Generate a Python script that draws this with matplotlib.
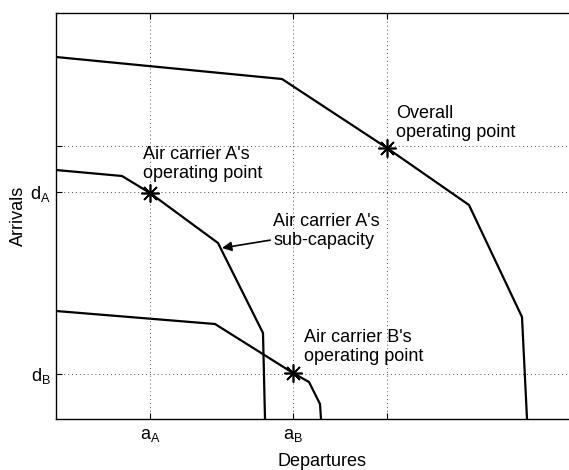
import numpy as np
import matplotlib
matplotlib.use("Agg")
import matplotlib.pyplot as plt

plt.rcParams["font.family"] = ["Liberation Sans", "DejaVu Sans"]
plt.rcParams["mathtext.default"] = "regular"

# capacity curves (departures, arrivals)
overall_x = [0, 226, 331, 413, 466, 471]
overall_y = [362, 340, 271, 214, 102, 0]

carrier_a_x = [0, 66, 94, 162, 207, 209]
carrier_a_y = [249, 243, 226, 176, 86, 0]

carrier_b_x = [0, 159, 237, 253, 264, 265]
carrier_b_y = [108, 95, 46, 37, 15, 0]

# operating points
op_x = [94, 237, 331]
op_y = [226, 46, 271]

xtick_pos = [94, 237, 331]
xtick_labels = ["a$_A$", "a$_B$", ""]
ytick_pos = [45, 227, 273]
ytick_labels = ["d$_B$", "d$_A$", ""]

W, H = 569, 470
fig = plt.figure(figsize=(W / 100, H / 100), dpi=100)
left, right, top, bottom = 56, 588, 13, 419
ax = fig.add_axes([left / W, 1 - bottom / H, (right - left) / W, (bottom - top) / H])

for xs, ys in [(overall_x, overall_y), (carrier_a_x, carrier_a_y), (carrier_b_x, carrier_b_y)]:
    ax.plot(xs, ys, color="black", lw=1.6, solid_joinstyle="miter", zorder=3)

ax.plot(op_x, op_y, linestyle="none", marker=(8, 2, 0), markersize=13,
        markeredgewidth=1.2, color="black", zorder=4)

ax.set_xlim(0, right - left)
ax.set_ylim(0, bottom - top)
ax.set_xticks(xtick_pos)
ax.set_xticklabels(xtick_labels)
ax.set_yticks(ytick_pos)
ax.set_yticklabels(ytick_labels)
ax.tick_params(direction="in", length=4, width=0.8, labelsize=13, top=True, right=True)
ax.tick_params(axis="x", pad=6)
ax.tick_params(axis="y", pad=4)
ax.grid(True, linestyle=(0, (1, 3)), color="black", lw=0.7, alpha=0.7)
for s in ax.spines.values():
    s.set_linewidth(1.0)

ax.set_xlabel("Departures", fontsize=13, labelpad=6)
ax.set_ylabel("Arrivals", fontsize=13, labelpad=2)

ax.text(87, 255, "Air carrier A's\noperating point", fontsize=13, va="center", ha="left")
ax.text(340, 296, "Overall\noperating point", fontsize=13, va="center", ha="left")
ax.text(248, 72, "Air carrier B's\noperating point", fontsize=13, va="center", ha="left")
ax.annotate("Air carrier A's\nsub-capacity", xy=(166, 171), xytext=(217, 188),
            fontsize=13, va="center", ha="left",
            arrowprops=dict(arrowstyle="-|>", color="black", lw=1.2,
                            shrinkA=0, shrinkB=0, mutation_scale=14),
            )

fig.savefig("out.png", dpi=100)
